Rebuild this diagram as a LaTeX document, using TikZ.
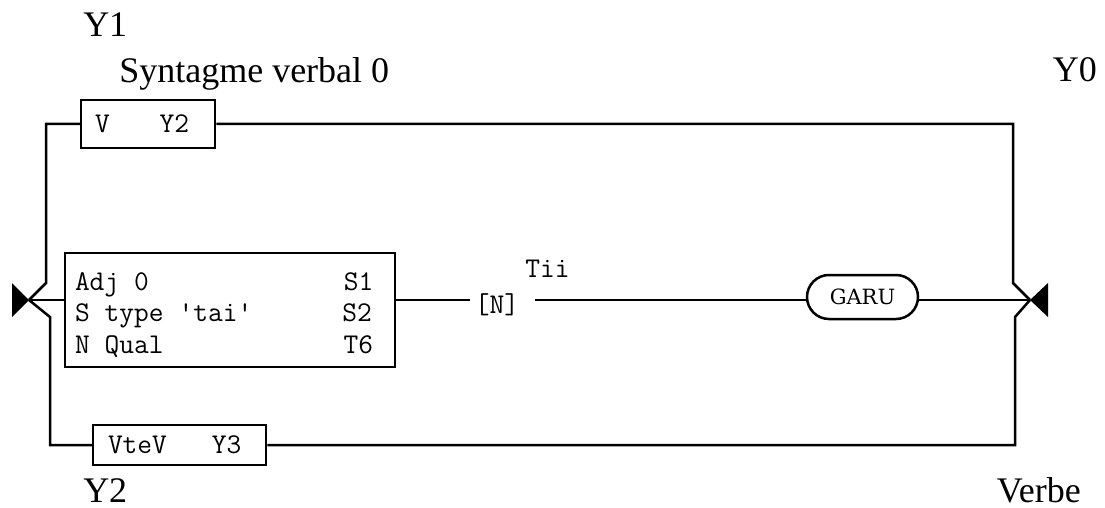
\documentclass[tikz,border=0pt]{standalone}
\usepackage{fontspec}
\setmainfont{Liberation Serif}
\newfontfamily\garufont{DejaVu Serif}
\newcommand\mspc[1]{\hspace*{\dimexpr#1\dimexpr 15pt\relax\relax}}
\begin{document}
\begin{tikzpicture}[x=1pt,y=-1pt,line width=2.5pt,
  lbl/.style={inner sep=0pt,font=\fontsize{36}{40}\selectfont},
  mono/.style={font=\fontsize{28.6}{31.5}\selectfont\ttfamily},
  boxstyle/.style={draw,mono,align=left,inner ysep=0pt},
  ovalbox/.style={draw,rounded corners=22pt,minimum width=111pt,minimum height=44pt,inner sep=0pt,font=\garufont\fontsize{21}{24}\selectfont}]
\useasboundingbox (0,0) rectangle (1105,508);
% labels
\node[lbl,anchor=base west] (y1) at (82,37) {Y1};
\node[lbl,anchor=base west] (sv) at (118,83) {Syntagme verbal 0};
\node[lbl,anchor=base east] (y0) at (1098,82) {Y0};
\node[lbl,anchor=base west] (y2) at (82,502) {Y2};
\node[lbl,anchor=base east] (verbe) at (1082,502) {Verbe};
% boxes
\node[boxstyle,text width=106pt,inner xsep=14pt,minimum height=48pt] (v) at (148,124) {V\mspc{3.33}Y2};
\node[boxstyle,text width=143pt,inner xsep=15pt,minimum height=40pt] (vtev) at (179.5,445) {VteV\mspc{3}Y3};
\node[boxstyle,text width=310pt,inner xsep=10pt,minimum height=114pt] (adj) at (230,310)
  {\rule{0pt}{27pt}Adj\mspc{1}0\mspc{13}S1\\S\mspc{1}type\mspc{1}'tai'\mspc{6}S2\\N\mspc{1}Qual\mspc{12}T6};
\node[mono,anchor=base,inner xsep=4pt,inner ysep=0pt] (N) at (497,313) {[N]};
\node[mono,anchor=base,inner sep=0pt] (tii) at (547.5,277) {Tii};
\node[ovalbox] (garu) at (862.5,297) {GARU};
% junctions
\coordinate (L) at (29,300);
\coordinate (R) at (1030,300);
\coordinate (lu) at (46,283);
\coordinate (ld) at (50,317);
\coordinate (ru) at (1013,283);
\coordinate (rd) at (1015,317);
\fill (L) -- (12,283) -- (12,317) -- cycle;
\fill (R) -- (1048,283) -- (1048,317) -- cycle;
% connectors
\draw (L) -- (lu) |- (v.west);
\draw (v.east) -| (ru) -- (R);
\draw (L) -- (ld) |- (vtev.west);
\draw (vtev.east) -| (rd) -- (R);
\draw (L) -- (L -| adj.west);
\draw (L -| adj.east) -- (L -| N.west);
\draw[shorten <=11pt] (L -| N.east) -- (L -| garu.west);
\draw (L -| garu.east) -- (R);
\end{tikzpicture}
\end{document}
